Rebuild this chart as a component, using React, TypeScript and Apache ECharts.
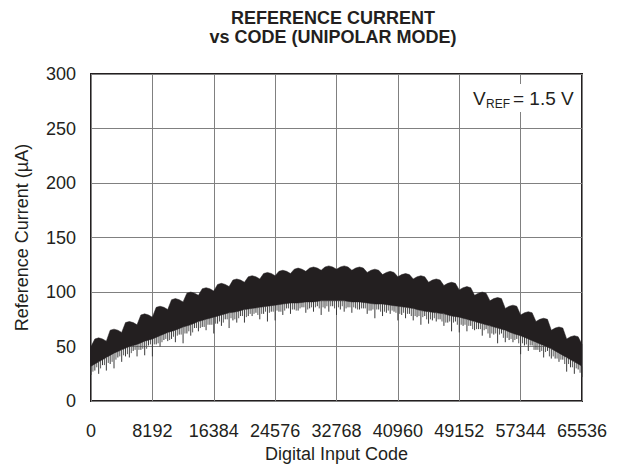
import React, { useEffect, useRef } from "react";
import * as echarts from "echarts";

const titleLines = ["REFERENCE CURRENT", "vs CODE (UNIPOLAR MODE)"];
const xAxisName = "Digital Input Code";
const yAxisName = "Reference Current (\u00b5A)";

// Codes of the upper-envelope readings (every 512 LSB)
const topCodes = [
  0, 512, 1024, 1536, 2048, 2560, 3072, 3584, 4096, 4608, 5120, 5632, 6144,
  6656, 7168, 7680, 8192, 8704, 9216, 9728, 10240, 10752, 11264, 11776, 12288,
  12800, 13312, 13824, 14336, 14848, 15360, 15872, 16384, 16896, 17408, 17920,
  18432, 18944, 19456, 19968, 20480, 20992, 21504, 22016, 22528, 23040, 23552,
  24064, 24576, 25088, 25600, 26112, 26624, 27136, 27648, 28160, 28672, 29184,
  29696, 30208, 30720, 31232, 31744, 32256, 32768, 33280, 33792, 34304, 34816,
  35328, 35840, 36352, 36864, 37376, 37888, 38400, 38912, 39424, 39936, 40448,
  40960, 41472, 41984, 42496, 43008, 43520, 44032, 44544, 45056, 45568, 46080,
  46592, 47104, 47616, 48128, 48640, 49152, 49664, 50176, 50688, 51200, 51712,
  52224, 52736, 53248, 53760, 54272, 54784, 55296, 55808, 56320, 56832, 57344,
  57856, 58368, 58880, 59392, 59904, 60416, 60928, 61440, 61952, 62464, 62976,
  63488, 64000, 64512, 65024, 65536,
];

// Upper envelope of the dense trace (µA): scalloped, one bump per 2048 codes
const topValues = [
  50, 57, 58, 57, 55, 65, 66, 65, 63, 72, 73, 72, 70, 79, 80, 79, 77, 86, 87,
  86, 84, 93, 94, 93, 91, 99, 100, 99, 97, 103, 104, 103, 101, 107, 108, 107,
  105, 111, 112, 111, 109, 114, 115, 114, 112, 117, 118, 117, 115, 119, 120,
  119, 117, 121, 122, 121, 119, 122, 123, 122, 120, 123, 124, 123, 121, 123,
  124, 123, 120, 122, 123, 122, 118, 120, 121, 120, 116, 118, 119, 118, 114,
  116, 117, 116, 112, 114, 115, 114, 109, 111, 112, 111, 106, 108, 109, 108,
  102, 104, 105, 104, 97, 99, 100, 99, 92, 94, 95, 94, 85, 87, 88, 87, 79, 81,
  82, 81, 73, 75, 76, 75, 65, 67, 68, 67, 57, 59, 60, 59, 52,
];

// Codes of the lower-edge and glitch readings (every 1024 LSB)
const codes = [
  0, 1024, 2048, 3072, 4096, 5120, 6144, 7168, 8192, 9216, 10240, 11264, 12288,
  13312, 14336, 15360, 16384, 17408, 18432, 19456, 20480, 21504, 22528, 23552,
  24576, 25600, 26624, 27648, 28672, 29696, 30720, 31744, 32768, 33792, 34816,
  35840, 36864, 37888, 38912, 39936, 40960, 41984, 43008, 44032, 45056, 46080,
  47104, 48128, 49152, 50176, 51200, 52224, 53248, 54272, 55296, 56320, 57344,
  58368, 59392, 60416, 61440, 62464, 63488, 64512, 65536,
];

// Lower edge of the solid black part of the trace (µA)
const bottomValues = [
  32, 36, 40, 44, 47, 50, 52, 55, 57, 60, 63, 65, 68, 70, 73, 75, 77, 79, 81,
  82, 84, 85, 86, 87, 88, 89, 90, 90, 91, 91, 92, 92, 92, 92, 91, 91, 90, 89,
  89, 88, 87, 86, 85, 83, 82, 81, 80, 78, 77, 75, 73, 71, 69, 67, 65, 62, 60,
  57, 54, 51, 48, 44, 40, 36, 32,
];

// Lowest points of the downward glitches at each 1024 code (µA)
const spikeLows = [
  24, 25, 28, 30, 36, 40, 41, 42, 41, 50, 55, 54, 53, 60, 64, 65, 62, 69, 67,
  72, 72, 78, 75, 73, 74, 79, 80, 83, 81, 82, 79, 82, 79, 82, 81, 84, 80, 76,
  78, 80, 74, 76, 74, 70, 71, 73, 69, 64, 63, 64, 65, 60, 58, 53, 54, 54, 43,
  46, 47, 40, 39, 36, 27, 25, 22,
];

// Lowest points of the glitches half-way between (codes + 512)
const minorSpikeLows = [
  28, 33, 34, 40, 41, 46, 47, 51, 52, 56, 57, 61, 62, 67, 68, 70, 71, 75, 74,
  78, 78, 81, 80, 82, 82, 85, 84, 86, 85, 87, 85, 87, 84, 86, 85, 85, 83, 84,
  81, 82, 79, 80, 77, 78, 74, 75, 72, 73, 69, 69, 66, 66, 61, 62, 56, 57, 51,
  51, 45, 46, 39, 38, 31, 29,
];

// Lowest points of the short glitches at codes + 256 and codes + 768 (pairs)
const fineSpikeLows = [
  27, 31, 30, 33, 35, 36, 38, 41, 42, 43, 44, 47, 47, 48, 48, 52, 52, 53, 54,
  57, 56, 59, 60, 61, 62, 64, 63, 67, 67, 68, 70, 70, 71, 73, 72, 75, 76, 75,
  76, 78, 77, 80, 80, 79, 80, 82, 81, 82, 83, 82, 83, 85, 84, 83, 85, 86, 84,
  86, 86, 85, 86, 87, 87, 85, 86, 87, 85, 86, 86, 84, 85, 85, 83, 84, 84, 82,
  82, 83, 83, 81, 80, 81, 80, 78, 78, 78, 77, 75, 75, 76, 75, 73, 72, 73, 72,
  70, 70, 70, 69, 66, 66, 66, 65, 62, 62, 62, 61, 58, 58, 57, 56, 53, 53, 52,
  51, 47, 47, 46, 45, 41, 41, 39, 38, 34, 34, 31, 30, 26,
];

const annotation = { main: "V", sub: "REF", rest: "= 1.5 V" };

const FONT = "'Liberation Sans', Arial, Helvetica, sans-serif";
const INK = "#231f20";

export default function App() {
  const ref = useRef<HTMLDivElement>(null);

  useEffect(() => {
    document.body.style.margin = "0";
    if (!ref.current) return;
    const chart = echarts.init(ref.current, undefined, { renderer: "svg" });

    const spikeData: number[][] = [];
    const fineData: number[][] = [];
    for (let i = 0; i < codes.length; i++) {
      spikeData.push([codes[i], spikeLows[i], bottomValues[i]]);
    }
    for (let i = 0; i < minorSpikeLows.length; i++) {
      const cover = Math.max(bottomValues[i], bottomValues[i + 1]);
      spikeData.push([codes[i] + 512, minorSpikeLows[i], cover]);
      fineData.push([codes[i] + 256, fineSpikeLows[2 * i], cover]);
      fineData.push([codes[i] + 768, fineSpikeLows[2 * i + 1], cover]);
    }

    const spikeRender = (color: string) => (_params: any, api: any) => {
      const p1 = api.coord([api.value(0), api.value(1)]);
      const p2 = api.coord([api.value(0), api.value(2)]);
      return {
        type: "line",
        shape: { x1: p1[0], y1: p1[1], x2: p2[0], y2: p2[1] },
        style: { stroke: color, lineWidth: 1 },
      };
    };

    const option: any = {
      animation: false,
      backgroundColor: "#ffffff",
      grid: {
        left: 91,
        right: 39,
        top: 74,
        bottom: 62,
        show: true,
        borderColor: INK,
        borderWidth: 2,
        backgroundColor: "transparent",
      },
      xAxis: {
        type: "value",
        min: 0,
        max: 65536,
        interval: 8192,
        name: xAxisName,
        nameLocation: "middle",
        nameGap: 43,
        nameTextStyle: { fontSize: 18, color: INK, fontFamily: FONT },
        axisLine: { show: false },
        axisTick: { show: false },
        axisLabel: {
          fontSize: 18,
          color: INK,
          fontFamily: FONT,
          margin: 21,
          formatter: (v: number) => String(v),
        },
        splitLine: { show: true, lineStyle: { color: "#808080", width: 1 } },
      },
      yAxis: {
        type: "value",
        min: 0,
        max: 300,
        interval: 50,
        name: yAxisName,
        nameLocation: "middle",
        nameGap: 60,
        nameTextStyle: { fontSize: 18, color: INK, fontFamily: FONT },
        axisLine: { show: false },
        axisTick: { show: false },
        axisLabel: { fontSize: 18, color: INK, fontFamily: FONT, margin: 15 },
        splitLine: { show: true, lineStyle: { color: "#808080", width: 1 } },
      },
      series: [
        {
          type: "custom",
          name: "fine glitches",
          coordinateSystem: "cartesian2d",
          data: fineData,
          z: 3,
          renderItem: spikeRender("#5a5a5a"),
        },
        {
          type: "custom",
          name: "glitches",
          coordinateSystem: "cartesian2d",
          data: spikeData,
          z: 3,
          renderItem: spikeRender("#3a3a3a"),
        },
        {
          type: "custom",
          name: "band",
          coordinateSystem: "cartesian2d",
          data: [[codes[0], topValues[0]]],
          z: 4,
          renderItem: (_params: any, api: any) => {
            const pts: number[][] = [];
            for (let i = 0; i < topCodes.length; i++) {
              pts.push(api.coord([topCodes[i], topValues[i]]));
            }
            for (let i = codes.length - 1; i >= 0; i--) {
              pts.push(api.coord([codes[i], bottomValues[i]]));
            }
            return {
              type: "polygon",
              shape: { points: pts },
              style: { fill: INK, stroke: INK, lineWidth: 0.5 },
            };
          },
        },
      ],
      graphic: [
        {
          type: "text",
          x: 333,
          y: 8,
          z: 10,
          style: {
            text: titleLines.join("\n"),
            font: `bold 18px ${FONT}`,
            lineHeight: 19,
            fill: INK,
            textAlign: "center",
            textVerticalAlign: "top",
          },
        },
        {
          type: "rect",
          z: 10,
          shape: { x: 468, y: 84, width: 112, height: 28 },
          style: { fill: "#ffffff" },
        },
        {
          type: "text",
          x: 473,
          y: 98,
          z: 11,
          style: {
            text: annotation.main,
            font: `19px ${FONT}`,
            fill: INK,
            textVerticalAlign: "middle",
          },
        },
        {
          type: "text",
          x: 486,
          y: 104,
          z: 11,
          style: {
            text: annotation.sub,
            font: `12px ${FONT}`,
            fill: INK,
            textVerticalAlign: "middle",
          },
        },
        {
          type: "text",
          x: 513,
          y: 98,
          z: 11,
          style: {
            text: annotation.rest,
            font: `19px ${FONT}`,
            fill: INK,
            textVerticalAlign: "middle",
          },
        },
      ],
    };

    chart.setOption(option);
    return () => {
      chart.dispose();
    };
  }, []);

  return <div ref={ref} style={{ width: 621, height: 468 }} />;
}
